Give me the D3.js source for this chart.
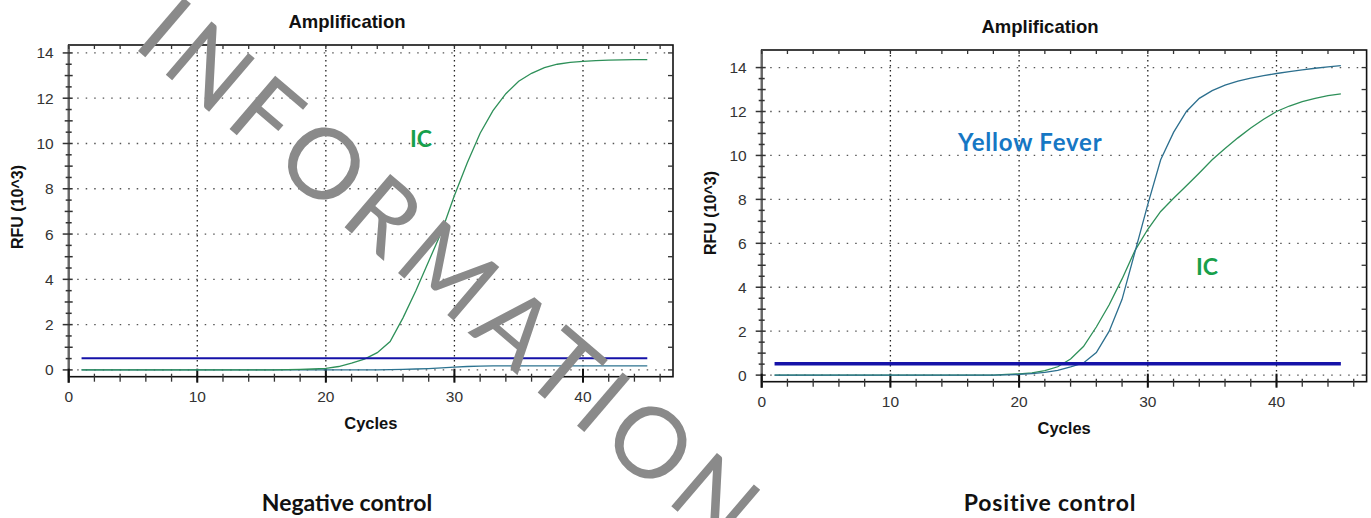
<!DOCTYPE html>
<html>
<head>
<meta charset="utf-8">
<script src="https://cdn.jsdelivr.net/npm/d3@7"></script>
<style>
  html, body { margin: 0; padding: 0; background: #fff; }
  svg { display: block; }
  .tick-label { font-family: "Liberation Sans", Arial, sans-serif; font-size: 15.5px; fill: #333; }
  .axis-title { font-family: "Liberation Sans", Arial, sans-serif; font-weight: bold; fill: #111; }
  .note { font-family: Lato, "Noto Sans", sans-serif; font-weight: 700; }
</style>
</head>
<body>
<div id="chart"></div>
<script>
'use strict';

// cycle numbers (x categories)
const cycles = d3.range(1, 46);

// negative control (RFU x10^3)
const negIC = [0,0,0,0,0,0,0,0,0,0,0,0,0,0,0,0,0.01,0.02,0.04,0.07,0.15,0.3,0.48,0.76,1.25,2.3,3.5,4.8,6.1,7.7,9.15,10.45,11.45,12.2,12.75,13.1,13.35,13.5,13.58,13.63,13.66,13.68,13.69,13.7,13.7];
const negYF = [0,0,0,0,0,0,0,0,0,0,0,0,0,0,0,0,0,0,0,0,0,0,0,0,0.01,0.02,0.04,0.06,0.09,0.12,0.15,0.17,0.18,0.18,0.18,0.18,0.18,0.18,0.18,0.18,0.18,0.18,0.18,0.18,0.18];

// positive control
const posYF = [0,0,0,0,0,0,0,0,0,0,0,0,0,0,0,0,0,0,0.01,0.03,0.07,0.12,0.22,0.37,0.55,1.03,2.0,3.45,5.6,7.77,9.8,11.05,12.0,12.6,12.95,13.2,13.38,13.52,13.63,13.73,13.82,13.9,13.97,14.03,14.09];
const posIC = [0,0,0,0,0,0,0,0,0,0,0,0,0,0,0,0,0,0,0.03,0.06,0.1,0.2,0.38,0.73,1.3,2.19,3.2,4.38,5.67,6.64,7.45,8.05,8.62,9.2,9.8,10.32,10.8,11.25,11.65,12.0,12.25,12.45,12.6,12.72,12.8];

const threshold = 0.52;
const thresholdCycles = [1, 45];

const yTicks = [0, 2, 4, 6, 8, 10, 12, 14];
const xTicks = [0, 10, 20, 30, 40];

const width = 1371, height = 518;

const svg = d3.select('#chart').append('svg')
    .attr('width', width)
    .attr('height', height);

function drawPanel(p) {
    const x = d3.scaleLinear().domain([0, 47]).range([p.left, p.right]);
    const y = d3.scaleLinear().domain(p.yDomain).range([p.bottom, p.top]);
    const g = svg.append('g');

    // grid
    g.selectAll('.hgrid').data(yTicks).enter().append('line')
        .attr('x1', p.left).attr('x2', p.right)
        .attr('y1', d => y(d)).attr('y2', d => y(d))
        .attr('stroke', '#555').attr('stroke-width', 1.3)
        .attr('stroke-dasharray', '1.5,7');
    g.selectAll('.vgrid').data(xTicks.slice(1)).enter().append('line')
        .attr('x1', d => x(d)).attr('x2', d => x(d))
        .attr('y1', p.top).attr('y2', p.bottom)
        .attr('stroke', '#222').attr('stroke-width', 1.3)
        .attr('stroke-dasharray', '1.5,3.5');

    // frame
    g.append('rect')
        .attr('x', p.left).attr('y', p.top)
        .attr('width', p.right - p.left).attr('height', p.bottom - p.top)
        .attr('fill', 'none').attr('stroke', '#111').attr('stroke-width', 1.6);
    g.append('line')
        .attr('x1', p.left).attr('x2', p.left)
        .attr('y1', p.top).attr('y2', p.bottom + 6)
        .attr('stroke', '#666').attr('stroke-width', 2.2);

    // minor / major ticks
    const yMinor = d3.range(0, 29).map(i => i / 2).filter(v => y(v) >= p.top);
    g.selectAll('.ytick').data(yMinor).enter().append('line')
        .attr('x1', d => p.left - (d % 2 === 0 ? 6 : (d % 1 === 0 ? 4 : 3)))
        .attr('x2', d => p.left + (d % 2 === 0 ? 4 : (d % 1 === 0 ? 4 : 3)))
        .attr('y1', d => y(d)).attr('y2', d => y(d))
        .attr('stroke', '#333').attr('stroke-width', 1.5);
    const yRight = d3.range(0, 15).filter(v => y(v) >= p.top);
    g.selectAll('.rtick').data(yRight).enter().append('line')
        .attr('x1', p.right - 5).attr('x2', p.right)
        .attr('y1', d => y(d)).attr('y2', d => y(d))
        .attr('stroke', '#333').attr('stroke-width', 1.3);
    const xMinor = d3.range(0, 47, 2);
    g.selectAll('.xtick').data(xMinor).enter().append('line')
        .attr('x1', d => x(d)).attr('x2', d => x(d))
        .attr('y1', p.bottom - 3).attr('y2', p.bottom + 5)
        .attr('stroke', '#333').attr('stroke-width', 1.3);
    g.selectAll('.xmajor').data(xTicks).enter().append('line')
        .attr('x1', d => x(d)).attr('x2', d => x(d))
        .attr('y1', p.bottom - 8).attr('y2', p.bottom + 6)
        .attr('stroke', '#111').attr('stroke-width', 2);
    g.selectAll('.ttick').data(xMinor).enter().append('line')
        .attr('x1', d => x(d)).attr('x2', d => x(d))
        .attr('y1', p.top).attr('y2', p.top + 4)
        .attr('stroke', '#333').attr('stroke-width', 1.3);

    // tick labels
    g.selectAll('.ylab').data(yTicks).enter().append('text')
        .attr('class', 'tick-label')
        .attr('x', p.left - 15).attr('y', d => y(d) + 5.5)
        .attr('text-anchor', 'end')
        .text(d => d);
    g.selectAll('.xlab').data(xTicks).enter().append('text')
        .attr('class', 'tick-label')
        .attr('x', d => x(d)).attr('y', p.bottom + 25)
        .attr('text-anchor', 'middle')
        .text(d => d);

    // titles
    g.append('text').attr('class', 'axis-title')
        .attr('x', p.titleX).attr('y', p.titleY)
        .attr('text-anchor', 'middle').style('font-size', '18.5px')
        .text('Amplification');
    g.append('text').attr('class', 'axis-title')
        .attr('x', (p.left + p.right) / 2).attr('y', p.bottom + 52)
        .attr('text-anchor', 'middle').style('font-size', '16.5px')
        .text('Cycles');
    g.append('text').attr('class', 'axis-title')
        .attr('transform', 'translate(' + p.ylabX + ',' + p.ylabY + ') rotate(-90)')
        .attr('text-anchor', 'middle').style('font-size', '16px')
        .text('RFU (10^3)');

    // curves
    const line = d3.line()
        .x((d, i) => x(cycles[i]))
        .y(d => y(d));
    p.series.forEach(s => {
        g.append('path').datum(s.values)
            .attr('d', line)
            .attr('fill', 'none')
            .attr('stroke', s.color)
            .attr('stroke-width', 1.3);
    });
    g.append('line')
        .attr('x1', x(thresholdCycles[0])).attr('x2', x(thresholdCycles[1]))
        .attr('y1', y(threshold)).attr('y2', y(threshold))
        .attr('stroke', '#1512a8').attr('stroke-width', p.thrWidth);

    // annotations
    p.notes.forEach(n => {
        g.append('text').attr('class', 'note')
            .attr('x', n.x).attr('y', n.y)
            .style('font-size', n.size)
            .style('letter-spacing', n.spacing || '0px')
            .attr('fill', n.color)
            .text(n.text);
    });

    g.append('text').attr('class', 'note')
        .attr('x', p.captionX).attr('y', 511)
        .attr('text-anchor', 'middle')
        .style('font-size', '23px')
        .style('letter-spacing', p.captionSpacing)
        .attr('fill', '#111')
        .text(p.caption);
}

drawPanel({
    left: 68.7, right: 673, top: 45, bottom: 376.7,
    yDomain: [-0.3, 14.35],
    titleX: 347, titleY: 28, ylabX: 23, ylabY: 207,
    thrWidth: 2,
    series: [
        {values: negYF, color: '#2c7390'},
        {values: negIC, color: '#2e9059'}
    ],
    notes: [{text: 'IC', x: 410, y: 147, color: '#17a04b', size: '23px'}],
    caption: 'Negative control', captionX: 347, captionSpacing: '0px'
});

drawPanel({
    left: 761.7, right: 1366.6, top: 50, bottom: 381.7,
    yDomain: [-0.3, 14.8],
    titleX: 1040, titleY: 33, ylabX: 716, ylabY: 213,
    thrWidth: 3.5,
    series: [
        {values: posIC, color: '#2e9059'},
        {values: posYF, color: '#2c6f8e'}
    ],
    notes: [
        {text: 'Yellow Fever', x: 958, y: 151, color: '#1677c4', size: '24px', spacing: '0.8px'},
        {text: 'IC', x: 1196, y: 275, color: '#17a04b', size: '23px'}
    ],
    caption: 'Positive control', captionX: 1050, captionSpacing: '0.8px'
});

// watermark
svg.append('text')
    .attr('transform', 'translate(452,274) rotate(40.5)')
    .attr('text-anchor', 'middle')
    .attr('dy', '0.35em')
    .style('font-family', 'Lato, sans-serif')
    .style('font-size', '98px')
    .style('font-weight', 400)
    .style('letter-spacing', '9px')
    .attr('fill', '#8a8a8a')
    .text('INFORMATION');
</script>
</body>
</html>
